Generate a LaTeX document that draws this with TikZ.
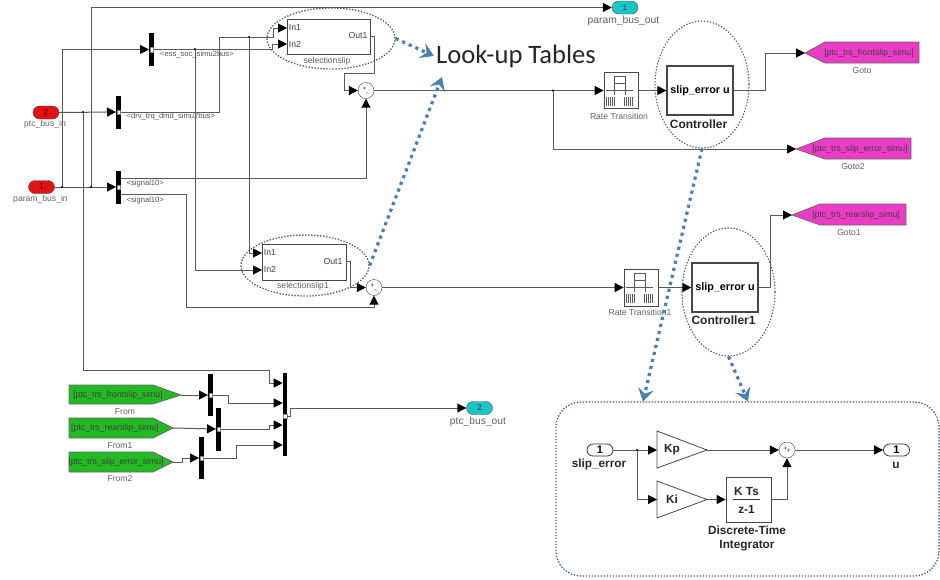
\documentclass[tikz,border=0pt]{standalone}
\usepackage{fontspec}
\setmainfont{Liberation Sans}
\newfontfamily\lookfont{Carlito}
\usepackage{xcolor}
\usetikzlibrary{arrows.meta,shapes.misc,shapes.geometric}

\definecolor{portred}{HTML}{E01414}
\definecolor{portcyan}{HTML}{1CC4C8}
\definecolor{gotopink}{HTML}{EA3CC6}
\definecolor{fromgreen}{HTML}{22B922}
\definecolor{ringblue}{HTML}{3F6382}
\definecolor{callblue}{HTML}{4A7FB5}

\tikzset{
	wire/.style={draw=black!65,line width=1pt,-{Stealth[length=9pt,width=9pt,inset=0pt,black]}},
	busbar/.style={fill=black,minimum width=4.6pt,inner sep=0pt},
	busmark/.style={draw=black!50,fill=white,minimum width=3.6pt,minimum height=4.5pt,inner sep=0pt},
	blk/.style={draw=black!72,line width=0.8pt,fill=white,inner sep=0pt},
	lbl/.style={text=black!62,font=\fontsize{8.6}{10}\selectfont,inner sep=0pt},
	lblout/.style={lbl,font=\fontsize{10.3}{12}\selectfont},
	sig/.style={text=black!68,font=\fontsize{7.6}{9}\selectfont,inner sep=0pt},
	tag/.style={text=black!75,font=\fontsize{8.7}{10}\selectfont,inner sep=0pt},
	boldlbl/.style={text=black!85,font=\fontsize{12}{14}\selectfont\bfseries,inner sep=0pt},
	paneltxt/.style={boldlbl,font=\fontsize{11.8}{14}\selectfont\bfseries},
	portin/.style={rounded rectangle,draw=black!70,fill=portred,minimum width=26pt,minimum height=13pt,inner sep=0pt,text=black!60!portred,font=\fontsize{8.5}{9}\selectfont},
	portout/.style={portin,fill=portcyan,text=black!60!portcyan},
	portsub/.style={rounded rectangle,draw=black!80,line width=0.8pt,fill=white,minimum width=26pt,minimum height=12pt,inner sep=0pt,font=\fontsize{11}{11}\selectfont\bfseries},
	sumblk/.style={circle,draw=black!75,fill=white,minimum size=16pt,inner sep=0pt,font=\fontsize{6}{6}\selectfont},
	gotoblk/.style={draw=black!60,line width=0.7pt,fill=gotopink},
	fromblk/.style={draw=black!60,line width=0.7pt,fill=fromgreen},
	ringdot/.style={ellipse,draw=ringblue,line width=1.3pt,dash pattern=on 1.4pt off 1.6pt,inner sep=0pt},
	callout/.style={draw=callblue,line width=3.2pt,dash pattern=on 3.2pt off 4pt,-{Stealth[length=13pt,width=16pt,inset=5pt]}}
}

\newcommand{\rateicon}[1]{%
	\begin{scope}[shift={(#1)},draw=black!65,line width=0.5pt]
		\draw (-7,-15) rectangle (4,-8);
		\draw (-15,-1)--(12,-1);
		\draw (-7,-8)--(-7,4);
		\draw (4,-8)--(4,4);
		\foreach \xa in {-15,3}
		\foreach \xb in {0,2,...,8}
		\draw[line width=0.9pt] (\xa+\xb,6)--(\xa+\xb,15);
	\end{scope}}

\begin{document}
\begin{tikzpicture}[x=1pt,y=-1pt]
	\useasboundingbox (0,0) rectangle (940,579);
	
	\coordinate (jA) at (195,49);
	\coordinate (jB) at (83,112);
	\coordinate (jC) at (249,37);
	\coordinate (jD) at (553,90.5);
	\coordinate (jP) at (62,187);
	\coordinate (jQ) at (91,187);
	\coordinate (jK) at (637,450);
	\coordinate (bendA) at (269,370);
	\coordinate (bendC) at (272,44);
	\coordinate (bendD) at (219,37);
	\coordinate (bendE) at (273,28);
	\coordinate (bendF) at (186,307);
	\coordinate (bendG) at (374,73);
	\coordinate (bendH) at (344,90.5);
	\coordinate (bendI) at (350,287.5);
	\coordinate (bendJ) at (765,53);
	\coordinate (bendK) at (770,215);
	\coordinate (bendL) at (228,403);
	\coordinate (bendM) at (269,425);
	\coordinate (bendN) at (236,445);
	\coordinate (bendO) at (182,458);
	\coordinate (bendP) at (290,408);
	
	% bus blocks
	\node[busbar,minimum height=33pt] (busA) at (151.5,49.5) {};
	\node[busbar,minimum height=33pt] (busB) at (118.5,112) {};
	\node[busbar,minimum height=33pt] (busC) at (118.5,187) {};
	\node[busbar,minimum height=83pt] (busD) at (285,414.5) {};
	\node[busbar,minimum height=42pt] (busE) at (210.5,395) {};
	\node[busbar,minimum height=43pt] (busF) at (218.5,429) {};
	\node[busbar,minimum height=42pt] (busG) at (201.5,458) {};
	\foreach \busn in {busA,busB,busC,busE,busF,busG}
	\node[busmark] (\busn m) at (\busn) {};
	\node[busmark] (busDm) at (285,416) {};
	\coordinate (busCa) at (121,178);
	\coordinate (busCb) at (121,194);
	\coordinate (busD1) at (282.7,383);
	\coordinate (busD2) at (282.7,403);
	\coordinate (busD3) at (282.7,425);
	\coordinate (busD4) at (282.7,445);
	
	% ports
	\node[portin] (ptcIn) at (46,112.5) {2};
	\node[portin] (paramIn) at (41.5,187) {1};
	\node[portout] (paramOut) at (625,7.5) {1};
	\node[portout] (ptcOut) at (479.5,408) {2};
	\node[lbl] (ptcInL) at (45,124.5) {ptc\_bus\_in};
	\node[lbl] (paramInL) at (40.5,199.5) {param\_bus\_in};
	\node[lblout] (paramOutL) at (623.5,20.5) {param\_bus\_out};
	\node[lblout] (ptcOutL) at (478,421.5) {ptc\_bus\_out};
	
	% look-up blocks
	\node[blk,minimum width=83pt,minimum height=35pt] (sel) at (328.5,36.5) {};
	\node[blk,minimum width=84pt,minimum height=36pt] (selB) at (304,262) {};
	\coordinate (selIn1) at (287,28);
	\coordinate (selIn2) at (287,44);
	\coordinate (selOut) at (370,36);
	\coordinate (selBIn1) at (262,253);
	\coordinate (selBIn2) at (262,270);
	\coordinate (selBOut) at (346,261);
	\node[tag] (selI1) at (295,27.5) {In1};
	\node[tag] (selI2) at (295,44) {In2};
	\node[tag] (selO1) at (358,36) {Out1};
	\node[tag] (selBI1) at (270,252.5) {In1};
	\node[tag] (selBI2) at (270,269.5) {In2};
	\node[tag] (selBO1) at (333,261) {Out1};
	\node[lbl] (selL) at (327,61) {selectionslip};
	\node[lbl] (selBL) at (303,286) {selectionslip1};
	
	\node[sumblk] (sumA) at (366,90.5) {+\raisebox{-2pt}{\_}};
	\node[sumblk] (sumB) at (374,287.5) {+\raisebox{-2pt}{\_}};
	
	% rate transition and controller
	\node[blk,minimum width=34pt,minimum height=36pt] (rateA) at (621,90.5) {};
	\node[blk,minimum width=34pt,minimum height=37pt] (rateB) at (641,287.5) {};
	\rateicon{621,91}
	\rateicon{641,288}
	\node[lbl] (rateAL) at (619,116) {Rate Transition};
	\node[lbl] (rateBL) at (640,312.5) {Rate Transition1};
	\node[blk,line width=1.2pt,minimum width=66pt,minimum height=49pt,font=\fontsize{10.8}{13}\selectfont\bfseries] (ctrlA) at (700,90.5) {slip\_error u};
	\node[blk,line width=1.2pt,minimum width=66pt,minimum height=49pt,font=\fontsize{10.8}{13}\selectfont\bfseries] (ctrlB) at (725,287.5) {slip\_error u};
	\node[boldlbl] (ctrlAL) at (698.5,124) {Controller};
	\node[boldlbl] (ctrlBL) at (723.5,320.5) {Controller1};
	
	% goto and from tags
	\draw[gotoblk] (805,53) coordinate (gotoAtip)--(825,42)--(919,42)--(919,63)--(825,63)--cycle;
	\draw[gotoblk] (796,149) coordinate (gotoBtip)--(825,138)--(911,138)--(911,159)--(825,159)--cycle;
	\draw[gotoblk] (792,215) coordinate (gotoCtip)--(820,204)--(906,204)--(906,225)--(820,225)--cycle;
	\draw[fromblk] (69,385)--(153,385)--(181,395) coordinate (fromAtip)--(153,404)--(69,404)--cycle;
	\draw[fromblk] (69,418)--(153,418)--(173,428) coordinate (fromBtip)--(153,438)--(69,438)--cycle;
	\draw[fromblk] (69,452)--(153,452)--(173,462) coordinate (fromCtip)--(153,472)--(69,472)--cycle;
	\node[tag] (gotoAT) at (869,53) {[ptc\_trs\_frontslip\_simu]};
	\node[tag] (gotoBT) at (860,149) {[ptc\_trs\_slip\_error\_simu]};
	\node[tag] (gotoCT) at (856,215) {[ptc\_trs\_rearslip\_simu]};
	\node[tag] (fromAT) at (118,395) {[ptc\_trs\_frontslip\_simu]};
	\node[tag] (fromBT) at (115,428) {[ptc\_trs\_rearslip\_simu]};
	\node[tag] (fromCT) at (116,462) {[ptc\_trs\_slip\_error\_simu]};
	\node[lbl] (gotoAL) at (862,71) {Goto};
	\node[lbl] (gotoBL) at (853,167) {Goto2};
	\node[lbl] (gotoCL) at (849,233) {Goto1};
	\node[lbl] (fromAL) at (125,412) {From};
	\node[lbl] (fromBL) at (120,446) {From1};
	\node[lbl] (fromCL) at (120,479) {From2};
	
	% bus signal names
	\node[sig,anchor=west] (sigA) at (160,54) {<ess\_soc\_simu2bus>};
	\node[sig,anchor=west] (sigB) at (126.5,117) {<drv\_trq\_dmd\_simu2bus>};
	\node[sig,anchor=west] (sigC) at (126.5,184) {<signal10>};
	\node[sig,anchor=west] (sigD) at (126.5,200.5) {<signal10>};
	
	% wires
	\draw[wire] (ptcIn.east)--(busB.west);
	\draw[wire] (paramIn.east)--(busC.west);
	\draw[wire] (jP) |- (busA.west);
	\draw[wire] (jQ) |- (paramOut.west);
	\draw[wire] (jB) |- (bendA) |- (busD1);
	\draw[wire] (busA.east) -| (bendC) -- (selIn2);
	\draw[wire] (busB.east) -| (bendD) -| (bendE) -- (selIn1);
	\draw[wire] (jA) |- (selBIn2);
	\draw[wire] (jC) |- (selBIn1);
	\draw[wire] (busCa) -| (sumA.south);
	\draw[wire] (busCb) -| (bendF) -| (sumB.south);
	\draw[wire] (selOut) -| (bendG) -| (bendH) -- (sumA.west);
	\draw[wire] (selBOut) -| (bendI) -- (sumB.west);
	\draw[wire] (sumA.east)--(rateA.west);
	\draw[wire] (sumB.east)--(rateB.west);
	\draw[wire] (jD) |- (gotoBtip);
	\draw[wire] (rateA.east)--(ctrlA.west);
	\draw[wire] (rateB.east)--(ctrlB.west);
	\draw[wire] (ctrlA.east) -| (bendJ) -- (gotoAtip);
	\draw[wire] (ctrlB.east) -| (bendK) -- (gotoCtip);
	\draw[wire] (fromAtip)--(busE.west);
	\draw[wire] (fromBtip)--(busF.west);
	\draw[wire] (fromCtip) -| (bendO) -- (busG.west);
	\draw[wire] (busE.east) -| (bendL) -- (busD2);
	\draw[wire] (busF.east) -| (bendM) -- (busD3);
	\draw[wire] (busG.east) -| (bendN) -- (busD4);
	\draw[wire] (busDm.east) -| (bendP) -- (ptcOut.west);
	\foreach \jn in {jA,jB,jC,jD,jP,jQ}
	\fill (\jn) circle (1.2pt);
	
	% controller detail
	\node[draw=ringblue,line width=1.3pt,dash pattern=on 1.4pt off 1.6pt,rounded corners=25pt,minimum width=383pt,minimum height=174pt,inner sep=0pt] (panel) at (747.5,489) {};
	\coordinate (panelA) at (643,401.5);
	\coordinate (panelB) at (748,401.5);
	\node[portsub] (subIn) at (600,450) {1};
	\node[portsub] (subOut) at (896.5,450) {1};
	\node[paneltxt] (subInL) at (599,464) {slip\_error};
	\node[paneltxt] (subOutL) at (896,465) {u};
	\draw[blk] (657,431) coordinate (kpA)--(707,450) coordinate (kpOut)--(657,468)--cycle;
	\draw[blk] (657,481) coordinate (kiA)--(707,499.5) coordinate (kiOut)--(657,518)--cycle;
	\coordinate (kpIn) at (657,450);
	\coordinate (kiIn) at (657,499.5);
	\node[paneltxt] (kpT) at (672,450) {Kp};
	\node[paneltxt] (kiT) at (672,499.5) {Ki};
	\node[blk,minimum width=45pt,minimum height=45pt] (integ) at (748.5,499.5) {};
	\node[paneltxt] (integA) at (746.5,491) {K Ts};
	\node[paneltxt] (integB) at (746.5,509.5) {z-1};
	\coordinate (fracL) at (733,499.5);
	\coordinate (fracR) at (760,499.5);
	\draw[black!80,line width=0.8pt] (fracL)--(fracR);
	\node[paneltxt,align=center] (integL) at (747,538) {Discrete-Time\\[0pt]Integrator};
	\node[sumblk] (sumC) at (787,450) {+\raisebox{-2pt}{+}};
	\draw[wire] (subIn.east)--(kpIn);
	\draw[wire] (jK) |- (kiIn);
	\draw[wire] (kpOut)--(sumC.west);
	\draw[wire] (kiOut)--(integ.west);
	\draw[wire] (integ.east) -| (sumC.south);
	\draw[wire] (sumC.east)--(subOut.west);
	\fill (jK) circle (1.2pt);
	
	% dotted rings and callouts
	\node[ringdot,minimum width=128pt,minimum height=61pt] (ringA) at (331,38.5) {};
	\node[ringdot,minimum width=128pt,minimum height=61pt] (ringB) at (305,265.5) {};
	\node[ringdot,line width=1.1pt,minimum width=94pt,minimum height=127pt] (ringC) at (702,84.5) {};
	\node[ringdot,line width=1.1pt,minimum width=93pt,minimum height=128pt] (ringD) at (728.5,292) {};
	\node[inner sep=0pt,font=\lookfont\fontsize{26.6}{30}\selectfont,text=black!85] (look) at (516,56) {Look-up Tables};
	\coordinate (lookB) at (442,77);
	\draw[callout] (ringA.east)--([xshift=-2pt]look.west);
	\draw[callout] (ringB.east)--(lookB);
	\draw[callout] (ringC.south)--(panelA);
	\draw[callout] (ringD.south)--(panelB);
\end{tikzpicture}
\end{document}
